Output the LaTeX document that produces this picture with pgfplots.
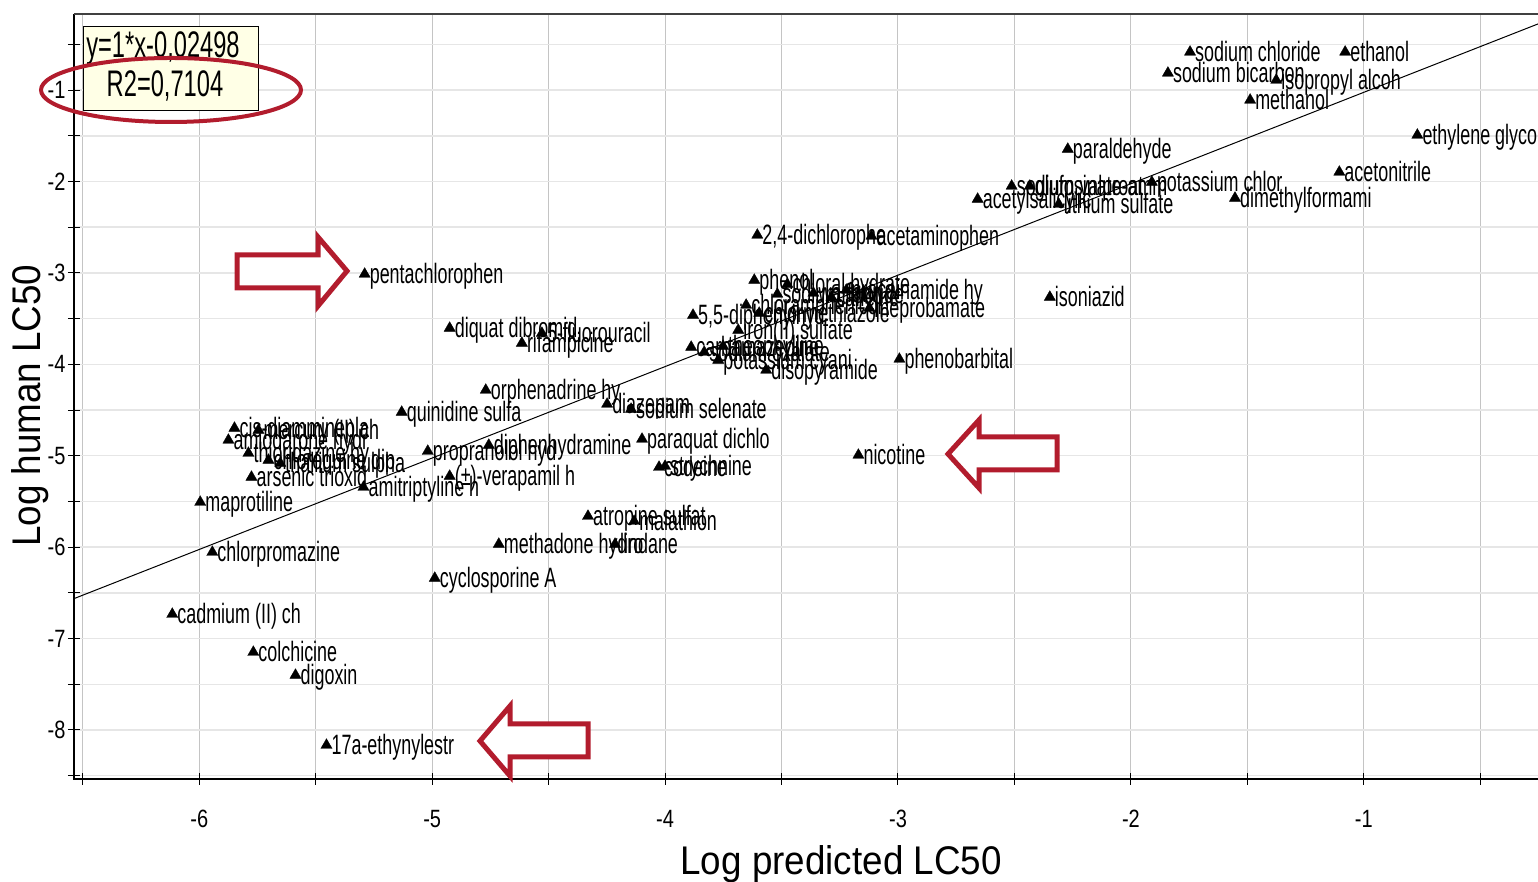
\documentclass[border=0pt]{standalone}
\usepackage{fontspec}
\setmainfont{Liberation Sans}
\newfontfamily\nar[FakeStretch=0.64]{Liberation Sans}
\newfontfamily\tck[FakeStretch=0.8]{Liberation Sans}
\newfontfamily\axf[FakeStretch=0.92]{Liberation Sans}
\usepackage{pgfplots}
\usepackage{pgfplotstable}
\pgfplotsset{compat=1.18}
\definecolor{annred}{RGB}{178,28,45}
\definecolor{boxfill}{RGB}{255,255,230}
\definecolor{vgrid}{RGB}{196,196,196}
\definecolor{hgrid}{RGB}{230,230,230}

\pgfplotstableread[col sep=semicolon,row sep=\\]{
x;y;label\\
-1.746;-0.584;sodium chloride\\
-1.080;-0.584;ethanol\\
-1.841;-0.814;sodium bicarbon\\
-1.376;-0.891;isopropyl alcoh\\
-1.488;-1.109;methanol\\
-0.770;-1.492;ethylene glycol\\
-2.271;-1.646;paraldehyde\\
-1.105;-1.897;acetonitrile\\
-1.910;-2.007;potassium chlor\\
-1.553;-2.182;dimethylformami\\
-2.512;-2.050;sodium valproat\\
-2.434;-2.050;glufosinate-amm\\
-2.658;-2.193;acetylsalicylic\\
-2.310;-2.247;lithium sulfate\\
-3.604;-2.586;2,4-dichlorophe\\
-3.114;-2.597;acetaminophen\\
-5.290;-3.013;pentachlorophen\\
-3.617;-3.079;phenol\\
-3.475;-3.123;chloral hydrate\\
-3.518;-3.232;sodium fluoride\\
-3.222;-3.188;procainamide hy\\
-3.363;-3.221;warfarin\\
-3.286;-3.265;caffeine\\
-3.123;-3.385;meprobamate\\
-3.652;-3.352;chloramphenicol\\
-3.596;-3.440;chlormethiazole\\
-3.880;-3.462;5,5-diphenylhyd\\
-3.686;-3.626;iron(II) sulfate\\
-3.888;-3.812;carbamazepine\\
-3.832;-3.867;sodium oxalate\\
-3.751;-3.801;theophylline\\
-3.772;-3.954;potassium cyani\\
-3.566;-4.063;disopyramide\\
-2.994;-3.943;phenobarbital\\
-2.348;-3.265;isoniazid\\
-4.925;-3.604;diquat dibromid\\
-4.529;-3.659;5-fluorouracil\\
-4.615;-3.768;rifampicine\\
-4.770;-4.282;orphenadrine hy\\
-5.131;-4.523;quinidine sulfa\\
-4.249;-4.435;diazepam\\
-4.146;-4.490;sodium selenate\\
-4.099;-4.818;paraquat dichlo\\
-5.019;-4.950;propranolol hyd\\
-4.757;-4.884;diphenhydramine\\
-4.925;-5.223;(±)-verapamil h\\
-4.000;-5.114;strychnine\\
-4.026;-5.125;codeine\\
-3.170;-4.993;nicotine\\
-4.331;-5.661;atropine sulfat\\
-4.133;-5.716;malathion\\
-4.714;-5.967;methadone hydro\\
-4.215;-5.967;lindane\\
-4.989;-6.339;cyclosporine A\\
-5.849;-4.698;cis-diamminepla\\
-5.746;-4.720;mercury (II) ch\\
-5.875;-4.829;amiodarone hydr\\
-5.789;-4.972;thioridazine hy\\
-5.703;-5.048;chloroquine dip\\
-5.652;-5.081;thallium sulpha\\
-5.776;-5.234;arsenic trioxid\\
-5.295;-5.344;amitriptyline h\\
-5.996;-5.508;maprotiline\\
-5.944;-6.055;chlorpromazine\\
-6.116;-6.733;cadmium (II) ch\\
-5.768;-7.149;colchicine\\
-5.587;-7.400;digoxin\\
-5.454;-8.166;17a-ethynylestr\\
}\pts

\begin{document}
\begin{tikzpicture}
\begin{axis}[
  at={(0,0)}, anchor=south west,
  scale only axis, width=1464pt, height=765pt,
  xmin=-6.538, xmax=-0.252, ymin=-8.536, ymax=-0.168,
  xtick={-6,-5,-4,-3,-2,-1}, minor xtick={-6.5,-5.5,-4.5,-3.5,-2.5,-1.5,-0.5},
  ytick={-8,-7,-6,-5,-4,-3,-2,-1}, minor ytick={-8.5,-7.5,-6.5,-5.5,-4.5,-3.5,-2.5,-1.5,-0.5},
  grid=both,
  major x grid style={draw=vgrid, line width=1pt},
  minor x grid style={draw=vgrid, line width=1pt},
  major y grid style={draw=hgrid, line width=1.5pt},
  minor y grid style={draw=hgrid, line width=1.5pt},
  axis line style={draw=none},
  tick pos=left, tick align=center,
  major tick length=12pt, minor tick length=12pt,
  every tick/.style={black, line width=1pt},
  /pgf/number format/assume math mode=true,
  ticklabel style={font=\tck\fontsize{25}{25}\selectfont},
  xticklabel style={yshift=-22pt},
  yticklabel style={xshift=1pt},
  xlabel={Log predicted LC50}, ylabel={Log human LC50},
  every axis x label/.style={at={(axis description cs:0.524,-0.125)}, anchor=base, font=\axf\fontsize{40}{40}\selectfont},
  every axis y label/.style={at={(axis description cs:-0.0301,0.488)}, anchor=center, rotate=90, font=\axf\fontsize{40}{40}\selectfont},
  clip=false,
]
\addplot[black, line width=1pt, no marks] coordinates {(-6.538,-6.563) (-0.252,-0.277)};
\addplot[only marks, mark=triangle*, mark size=6.5pt, mark options={fill=black, draw=black, line width=0.3pt},
  nodes near coords, point meta=explicit symbolic,
  nodes near coords align={anchor=base west},
  every node near coord/.append style={font=\nar\fontsize{28}{28}\selectfont, inner sep=0pt, xshift=5pt, yshift=-9pt, black}]
  table[x=x, y=y, meta=label]{\pts};
\draw[black, line width=2pt] (rel axis cs:0,1) -- (rel axis cs:0,0) -- (rel axis cs:1,0);
\draw[black!75, line width=1.5pt] (rel axis cs:0,1) -- (rel axis cs:1,1);
\end{axis}
\begin{scope}[x=1pt, y=1pt]
\draw[fill=boxfill, draw=black, line width=1pt] (9,668) rectangle (184,752);
\node[font=\nar\fontsize{37}{37}\selectfont, inner sep=0pt] at (89,731) {y=1*x-0,02498};
\node[font=\nar\fontsize{37}{37}\selectfont, inner sep=0pt] at (91,693) {R2=0,7104};
\draw[annred, line width=4pt] (97,689) ellipse [x radius=130, y radius=32];
\draw[annred, line width=5pt, fill=white, line join=miter] (163,524) -- (244,524) -- (244,542) -- (273,508) -- (244,473) -- (244,491) -- (163,491) -- cycle;
\draw[annred, line width=5pt, fill=white, line join=miter] (874,325) -- (905,359) -- (905,342) -- (983,342) -- (983,309) -- (905,309) -- (905,291) -- cycle;
\draw[annred, line width=5pt, fill=white, line join=miter] (406,38) -- (436,73) -- (436,55) -- (514,55) -- (514,22) -- (436,22) -- (436,3) -- cycle;
\end{scope}
\pgfresetboundingbox
\path[use as bounding box] (-74pt,-103pt) rectangle (1464pt,779pt);
\end{tikzpicture}
\end{document}
